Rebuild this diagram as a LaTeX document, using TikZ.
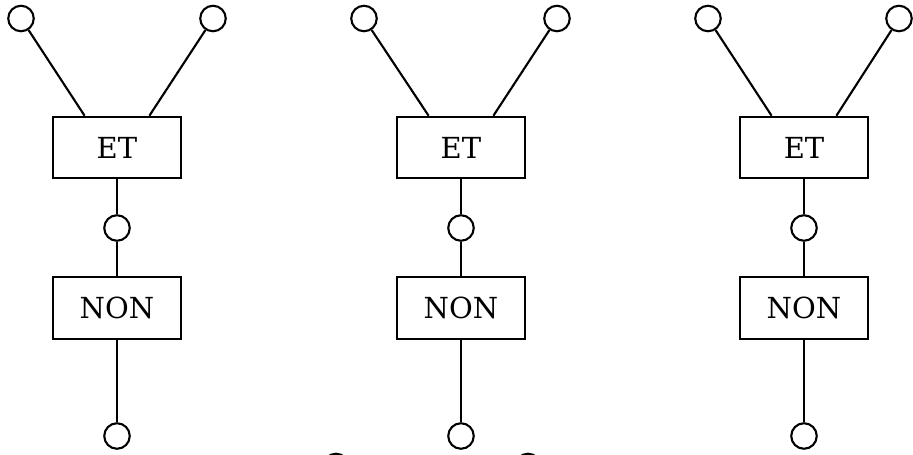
\documentclass[tikz,border=0pt]{standalone}
\usepackage{fontspec}
\setmainfont{DejaVu Serif}
\usetikzlibrary{calc,positioning}
\tikzset{
  gate/.style={
    shape = rectangle,
    draw,
    line width = 1.2pt,
    minimum width = 2.55cm,
    minimum height = 1.23cm,
    inner sep = 0pt,
    font = \fontsize{16.5}{19}\selectfont
  },
  port/.style={
    shape = circle,
    draw,
    line width = 1.2pt,
    minimum size = 0.51cm,
    inner sep = 0pt
  },
  wire/.style={
    line width = 1.2pt
  }
}

\begin{document}
\begin{tikzpicture}
                \useasboundingbox (0,0) rectangle (18.26,-9.08);

                % first
                \node[gate] (et1) at (2.34,-2.95) {ET};
                \node[gate] (non1) at (2.34,-6.16) {NON};
                \node[port] (a1) at (0.42,-0.37) {};
                \node[port] (b1) at (4.26,-0.37) {};
                \node[port] (m1) at (2.34,-4.56) {};
                \node[port] (o1) at (2.34,-8.72) {};

                \draw[wire] (a1) -- ($(et1.north)!0.5!(et1.north west)$);
                \draw[wire] (b1) -- ($(et1.north)!0.5!(et1.north east)$);
                \draw[wire] (et1) -- (m1);
                \draw[wire] (m1) -- (non1);
                \draw[wire] (non1) -- (o1);

                % second
                \node[gate] (et2) at (9.22,-2.95) {ET};
                \node[gate] (non2) at (9.22,-6.16) {NON};
                \node[port] (a2) at (7.28,-0.37) {};
                \node[port] (b2) at (11.14,-0.37) {};
                \node[port] (m2) at (9.22,-4.56) {};
                \node[port] (o2) at (9.22,-8.72) {};

                \draw[wire] (a2) -- ($(et2.north)!0.5!(et2.north west)$);
                \draw[wire] (b2) -- ($(et2.north)!0.5!(et2.north east)$);
                \draw[wire] (et2) -- (m2);
                \draw[wire] (m2) -- (non2);
                \draw[wire] (non2) -- (o2);

                % third
                \node[gate] (et3) at (16.08,-2.95) {ET};
                \node[gate] (non3) at (16.08,-6.16) {NON};
                \node[port] (a3) at (14.16,-0.37) {};
                \node[port] (b3) at (17.98,-0.37) {};
                \node[port] (m3) at (16.08,-4.56) {};
                \node[port] (o3) at (16.08,-8.72) {};

                \draw[wire] (a3) -- ($(et3.north)!0.5!(et3.north west)$);
                \draw[wire] (b3) -- ($(et3.north)!0.5!(et3.north east)$);
                \draw[wire] (et3) -- (m3);
                \draw[wire] (m3) -- (non3);
                \draw[wire] (non3) -- (o3);

                % cut at the lower edge
                \node[port] (x1) at (6.72,-9.33) {};
                \node[port] (x2) at (10.56,-9.33) {};
    \end{tikzpicture}
\end{document}
